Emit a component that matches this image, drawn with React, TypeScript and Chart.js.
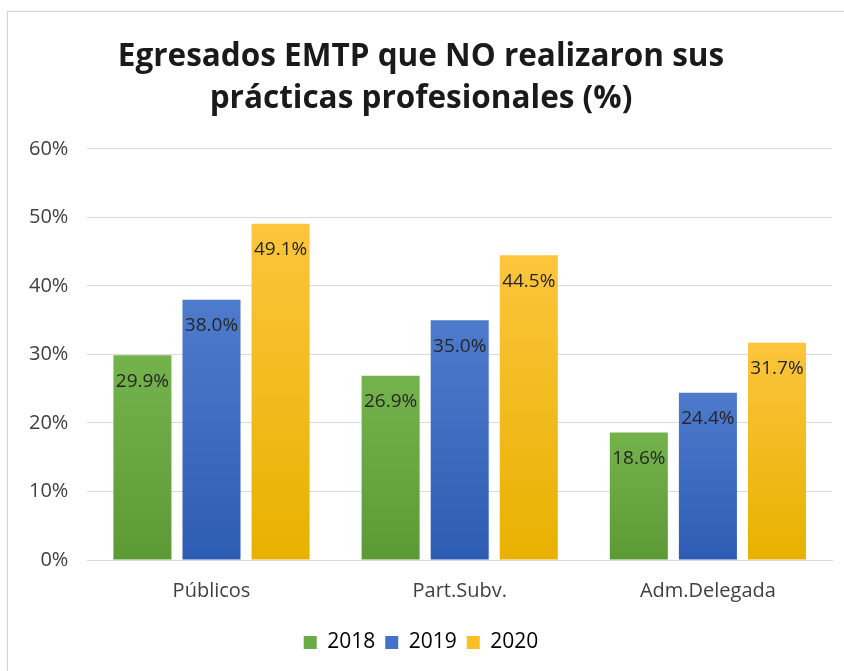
import React, { useEffect, useRef } from "react";
import { Chart, registerables } from "chart.js";

Chart.register(...registerables);

const categories = ["Públicos", "Part.Subv.", "Adm.Delegada"];
const seriesNames = ["2018", "2019", "2020"];
const values2018 = [29.9, 26.9, 18.6];
const values2019 = [38.0, 35.0, 24.4];
const values2020 = [49.1, 44.5, 31.7];
const titleLines = ["Egresados EMTP que NO realizaron sus", "prácticas profesionales (%)"];
const captionText = "Figura 3: Egresados EMTP que no realizaron sus prácticas profesionales, por dependencia";

const FONT = "'Open Sans', Lato, sans-serif";

const gradients: [string, string][] = [
  ["#74b34c", "#5c9a36"],
  ["#4e7bcc", "#2d5cb3"],
  ["#fcc53c", "#e8b100"],
];

const legendColors = ["#6aab45", "#4472c4", "#fbbf24"];

const dataLabelPlugin = {
  id: "dataLabels",
  afterDatasetsDraw(chart: any) {
    const ctx = chart.ctx;
    ctx.save();
    ctx.font = `19px ${FONT}`;
    ctx.fillStyle = "#262626";
    ctx.textAlign = "center";
    ctx.textBaseline = "middle";
    chart.data.datasets.forEach((ds: any, di: number) => {
      const meta = chart.getDatasetMeta(di);
      meta.data.forEach((bar: any, i: number) => {
        const v = ds.data[i] as number;
        ctx.fillText(v.toFixed(1) + "%", bar.x, bar.y + 26);
      });
    });
    ctx.restore();
  },
};

export default function App() {
  const ref = useRef<HTMLCanvasElement | null>(null);

  useEffect(() => {
    if (!ref.current) return;
    const all = [values2018, values2019, values2020];
    const chart = new Chart(ref.current, {
      type: "bar",
      data: {
        labels: categories,
        datasets: all.map((vals, k) => ({
          label: seriesNames[k],
          data: vals,
          backgroundColor: (c: any) => {
            const ch = c.chart;
            const area = ch.chartArea;
            if (!area || c.type !== "data") return legendColors[k];
            const ys = ch.scales.y;
            const top = ys.getPixelForValue(vals[c.dataIndex]);
            const g = ch.ctx.createLinearGradient(0, top, 0, area.bottom);
            g.addColorStop(0, gradients[k][0]);
            g.addColorStop(1, gradients[k][1]);
            return g;
          },
          borderWidth: 0,
          categoryPercentage: 0.835,
          barPercentage: 0.84,
        })),
      },
      options: {
        responsive: false,
        animation: false,
        layout: { padding: { left: 2, right: 12, top: 0, bottom: 8 } },
        scales: {
          x: {
            grid: { display: false, drawTicks: false },
            border: { display: true, color: "#d9d9d9", width: 1 },
            ticks: { color: "#404040", font: { family: FONT, size: 20, lineHeight: 1 }, padding: 21 },
          },
          y: {
            min: 0,
            max: 60,
            grid: { color: "#d9d9d9", lineWidth: 1, drawTicks: false },
            border: { display: false },
            ticks: {
              stepSize: 10,
              color: "#404040",
              font: { family: FONT, size: 20 },
              padding: 19,
              callback: (v: any) => v + "%",
            },
          },
        },
        plugins: {
          title: {
            display: true,
            text: titleLines,
            color: "#1a1a1a",
            font: { family: FONT, size: 31.5, weight: "bold", lineHeight: 1.333 },
            padding: { top: 24, bottom: 29 },
          },
          legend: {
            position: "bottom",
            labels: {
              boxWidth: 13,
              boxHeight: 13,
              padding: 10,
              color: "#404040",
              font: { family: FONT, size: 21 },
              generateLabels: () =>
                seriesNames.map((n, k) => ({
                  text: n,
                  fillStyle: legendColors[k],
                  strokeStyle: legendColors[k],
                  lineWidth: 0,
                  datasetIndex: k,
                  hidden: false,
                })),
            },
          },
          tooltip: { enabled: false },
        },
      },
      plugins: [dataLabelPlugin],
    } as any);
    return () => chart.destroy();
  }, []);

  return (
    <div
      style={{
        position: "fixed",
        left: 0,
        top: 0,
        width: 844,
        height: 671,
        overflow: "hidden",
        background: "#ffffff",
      }}
    >
      <div
        style={{
          position: "absolute",
          left: 40,
          top: -25,
          whiteSpace: "nowrap",
          color: "#2e75d6",
          fontFamily: FONT,
          fontSize: 21,
          fontWeight: "bold",
          lineHeight: "24px",
        }}
      >
        {captionText}
      </div>
      <div
        style={{
          position: "absolute",
          left: 7,
          top: 11,
          width: 860,
          height: 680,
          border: "1px solid #d4d4d4",
          boxShadow: "0 0 2px rgba(0,0,0,0.08)",
          background: "#fff",
        }}
      >
        <canvas ref={ref} width={836} height={659} style={{ display: "block" }} />
      </div>
    </div>
  );
}
